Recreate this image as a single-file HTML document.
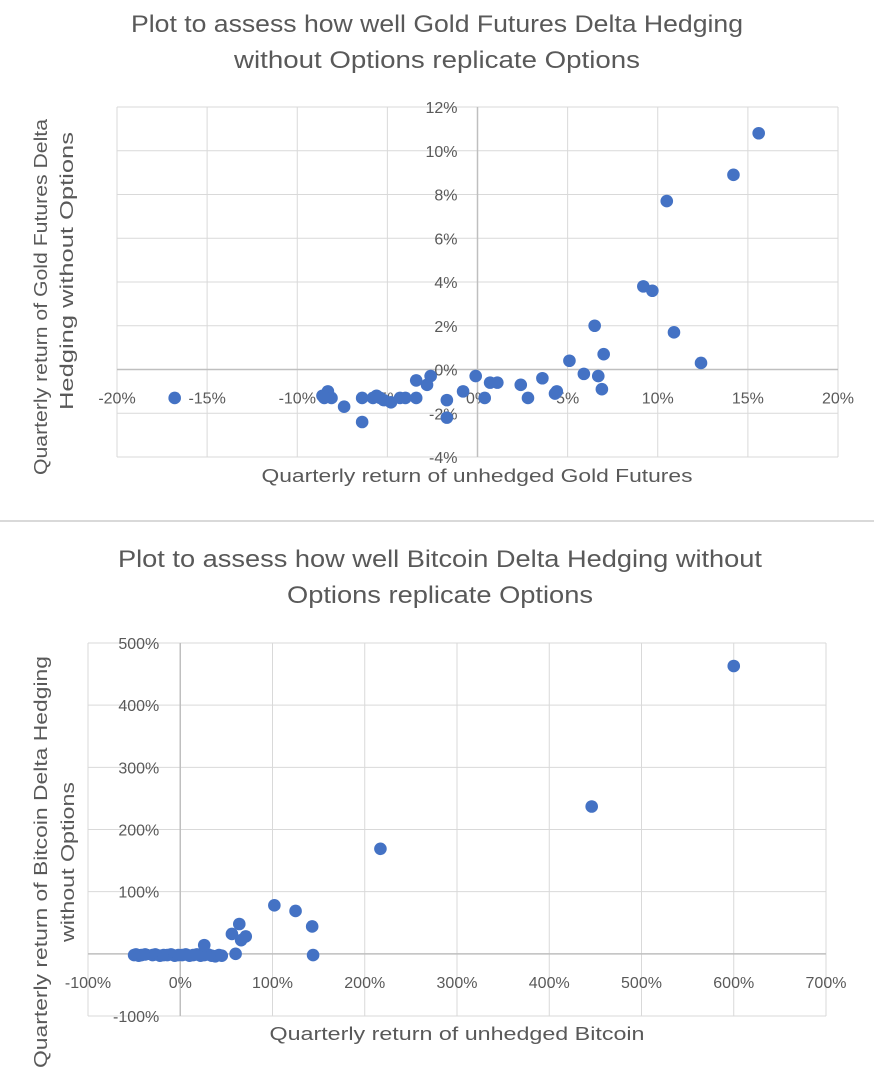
<!DOCTYPE html>
<html><head><meta charset="utf-8">
<style>
html,body{margin:0;padding:0;background:#fff;}
svg{display:block;font-family:"Liberation Sans",sans-serif;}
.t{fill:#595959;}
</style></head>
<body>
<svg id="svg" width="874" height="1067" viewBox="0 0 874 1067">
<g id="g1">
<text class="t" x="437" y="32" font-size="24" text-anchor="middle" textLength="612" lengthAdjust="spacingAndGlyphs">Plot to assess how well Gold Futures Delta Hedging</text>
<text class="t" x="437" y="68" font-size="24" text-anchor="middle" textLength="406" lengthAdjust="spacingAndGlyphs">without Options replicate Options</text>
<text class="t" font-size="18" text-anchor="middle" textLength="356" lengthAdjust="spacingAndGlyphs" transform="translate(47,297) rotate(-90)">Quarterly return of Gold Futures Delta</text>
<text class="t" font-size="18" text-anchor="middle" textLength="278" lengthAdjust="spacingAndGlyphs" transform="translate(73,271) rotate(-90)">Hedging without Options</text>
<text class="t" x="477" y="482" font-size="18" text-anchor="middle" textLength="431" lengthAdjust="spacingAndGlyphs">Quarterly return of unhedged Gold Futures</text>
</g>
<line x1="0" y1="521" x2="874" y2="521" stroke="#d9d9d9" stroke-width="2"/>
<g id="g2">
<text class="t" x="440" y="567" font-size="24" text-anchor="middle" textLength="644" lengthAdjust="spacingAndGlyphs">Plot to assess how well Bitcoin Delta Hedging without</text>
<text class="t" x="440" y="603" font-size="24" text-anchor="middle" textLength="306" lengthAdjust="spacingAndGlyphs">Options replicate Options</text>
<text class="t" font-size="18" text-anchor="middle" textLength="412" lengthAdjust="spacingAndGlyphs" transform="translate(47,862) rotate(-90)">Quarterly return of Bitcoin Delta Hedging</text>
<text class="t" font-size="18" text-anchor="middle" textLength="160" lengthAdjust="spacingAndGlyphs" transform="translate(74,862) rotate(-90)">without Options</text>
<text class="t" x="457" y="1040" font-size="18" text-anchor="middle" textLength="375" lengthAdjust="spacingAndGlyphs">Quarterly return of unhedged Bitcoin</text>
</g>
</svg>
<script>
// Gold data (%)
const goldX=[-16.8,-8.6,-8.3,-8.1,-8.5,-7.4,-6.4,-6.4,-5.8,-5.6,-5.2,-5.4,-4.8,-4.3,-4.0,-3.4,-3.4,-2.8,-2.6,-1.7,-1.7,-0.8,-0.1,0.4,0.7,1.1,2.4,2.8,3.6,4.3,4.4,5.1,5.9,6.5,6.7,6.9,7.0,9.2,9.7,10.5,10.9,12.4,14.2,15.6];
const goldY=[-1.3,-1.2,-1.0,-1.3,-1.3,-1.7,-1.3,-2.4,-1.3,-1.2,-1.4,-1.3,-1.5,-1.3,-1.3,-0.5,-1.3,-0.7,-0.3,-1.4,-2.2,-1.0,-0.3,-1.3,-0.6,-0.6,-0.7,-1.3,-0.4,-1.1,-1.0,0.4,-0.2,2.0,-0.3,-0.9,0.7,3.8,3.6,7.7,1.7,0.3,8.9,10.8];
const goldXTicks=[-20,-15,-10,-5,0,5,10,15,20];
const goldYTicks=[-4,-2,0,2,4,6,8,10,12];
// Bitcoin data (%)
const btcX=[-50,-48,-45,-42,-38,-30,-27,-22,-18,-14,-10,-6,-2,2,6,10,14,18,22,26,30,34,38,42,45,26,56,64,71,60,66,102,125,143,144,217,446,600];
const btcY=[-2,-1,-3,-2,-1,-2,-1,-3,-2,-2,-1,-3,-2,-2,-1,-3,-2,-1,-3,-2,-1,-3,-4,-2,-3,14,32,48,28,0,22,78,69,44,-2,169,237,463];
const btcXTicks=[-100,0,100,200,300,400,500,600,700];
const btcYTicks=[-100,0,100,200,300,400,500];

const NS="http://www.w3.org/2000/svg";
function mk(parent,tag,attrs){const e=document.createElementNS(NS,tag);for(const k in attrs)e.setAttribute(k,attrs[k]);parent.appendChild(e);return e;}

function chart(g,cfg){
  const sx=v=>cfg.x0+(v-cfg.xmin)/(cfg.xmax-cfg.xmin)*(cfg.x1-cfg.x0);
  const sy=v=>cfg.y1-(v-cfg.ymin)/(cfg.ymax-cfg.ymin)*(cfg.y1-cfg.y0);
  cfg.xt.forEach(t=>{const l=mk(g,'line',{x1:sx(t),x2:sx(t),y1:cfg.y0,y2:cfg.y1,stroke:'#d9d9d9','stroke-width':1});
    
    });
  cfg.yt.forEach(t=>{const l=mk(g,'line',{x1:cfg.x0,x2:cfg.x1,y1:sy(t),y2:sy(t),stroke:'#d9d9d9','stroke-width':1});
    
    });
  const ax=mk(g,'line',{x1:cfg.x0,x2:cfg.x1,y1:sy(0),y2:sy(0),stroke:'#bfbfbf','stroke-width':1.5});
  
  
  const ay=mk(g,'line',{x1:sx(0),x2:sx(0),y1:cfg.y0,y2:cfg.y1,stroke:'#bfbfbf','stroke-width':1.5});
  
  
  cfg.xt.forEach(t=>{const e=mk(g,'text',{x:sx(t),y:sy(0)+cfg.xlo,'font-size':16,'text-anchor':'middle',class:'t'});e.textContent=t+'%';
    
    });
  cfg.yt.forEach(t=>{const e=mk(g,'text',{x:sx(0)-cfg.ylo,y:sy(t)+6,'font-size':16,'text-anchor':'end',class:'t'});e.textContent=t+'%';
    
    });
  cfg.xs.forEach((v,i)=>{const c=mk(g,'circle',{cx:sx(v),cy:sy(cfg.ys[i]),r:6.3,fill:'#4472c4'});
    
    });
}
chart(document.getElementById('g1'),{x0:117,x1:838,y0:107,y1:457,xmin:-20,xmax:20,ymin:-4,ymax:12,xt:goldXTicks,yt:goldYTicks,xs:goldX,ys:goldY,xlo:34,ylo:20});
chart(document.getElementById('g2'),{x0:88,x1:826,y0:643,y1:1016,xmin:-100,xmax:700,ymin:-100,ymax:500,xt:btcXTicks,yt:btcYTicks,xs:btcX,ys:btcY,xlo:34,ylo:21});
</script>
</body></html>
